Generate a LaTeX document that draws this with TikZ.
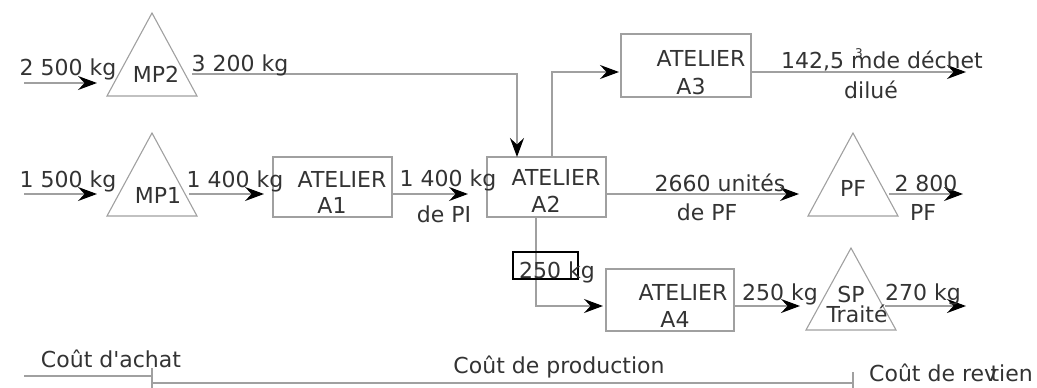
\documentclass[tikz,border=0pt]{standalone}
\usepackage{fontspec}
\setmainfont{DejaVu Sans}[Ligatures=TeXOff]
\usetikzlibrary{arrows.meta}
\definecolor{lg}{RGB}{160,160,160}
\definecolor{tc}{RGB}{51,51,51}
\newcommand{\fsz}{\fontsize{22}{26}\selectfont}
\tikzset{
  ln/.style={draw=lg, line width=1.3pt},
  arr/.style={ln, -{Stealth[length=19pt,width=14pt,inset=6.5pt,color=black]}},
  boxn/.style={draw=lg, line width=1.3pt, inner sep=0pt, minimum width=#1},
  tri/.style={draw=lg, line width=1.1pt},
  txt/.style={text=tc, inner sep=0pt, font=\fsz, anchor=base},
}
\begin{document}
\begin{tikzpicture}[x=1pt,y=-1pt]
\useasboundingbox (0,0) rectangle (1037,388);
% boxes
\node[boxn=119pt, minimum height=60pt] (A1) at (332.5,187) {};
\node[boxn=119pt, minimum height=60pt] (A2) at (546.5,187) {};
\node[boxn=130pt, minimum height=63pt] (A3) at (686,65.5) {};
\node[boxn=128pt, minimum height=62pt] (A4) at (670,300) {};
% triangles
\draw[tri] (152,13) -- (107,96) -- (197,96) -- cycle;
\draw[tri] (152,133) -- (107,216) -- (197,216) -- cycle;
\draw[tri] (853,133) -- (808,216) -- (898,216) -- cycle;
\draw[tri] (851,248) -- (806,330) -- (896,330) -- cycle;
% coordinates
\coordinate (in2) at (24,83);
\coordinate (mp2w) at (97,83);
\coordinate (mp2e) at (192,74);
\coordinate (a2t) at (517,157);
\coordinate (in1) at (24,194);
\coordinate (mp1w) at (97,194);
\coordinate (mp1e) at (189,194);
\coordinate (a1w) at (264,194);
\coordinate (a2w) at (468,194);
\coordinate (a2u) at (552,157);
\coordinate (a3w) at (619,72);
\coordinate (a3o) at (966,72);
\coordinate (pfw) at (799,194);
\coordinate (pfe) at (889,194);
\coordinate (pfo) at (963,194);
\coordinate (a2d) at (536,217);
\coordinate (a4w) at (603,306);
\coordinate (spw) at (800,306);
\coordinate (spe) at (885,306);
\coordinate (spo) at (966,306);
% connectors
\draw[arr] (in2) -- (mp2w);
\draw[arr] (mp2e) -| (a2t);
\draw[arr] (in1) -- (mp1w);
\draw[arr] (mp1e) -- (a1w);
\draw[arr] (A1.east |- a1w) -- (a2w);
\draw[arr] (a2u) |- (a3w);
\draw[arr] (A3.east |- a3w) -- (a3o);
\draw[arr] (A2.east |- a2w) -- (pfw);
\draw[arr] (pfe) -- (pfo);
\draw[arr] (a2d) |- (a4w);
\draw[arr] (A4.east |- a4w) -- (spw);
\draw[arr] (spe) -- (spo);
% bottom scale
\coordinate (c0) at (24,376);
\coordinate (c1) at (152,376);
\coordinate (c1t) at (152,368);
\coordinate (c1b) at (152,388);
\coordinate (c2) at (152,383);
\coordinate (c3) at (853,383);
\coordinate (c3t) at (853,372);
\coordinate (c3b) at (853,388);
\draw[ln] (c0) -- (c1);
\draw[ln] (c1t) -- (c1b);
\draw[ln] (c2) -- (c3);
\draw[ln] (c3t) -- (c3b);
% boxed label
\node[draw=black, line width=2pt, minimum width=65pt, minimum height=27pt, inner sep=0pt] (bx) at (545.5,265.5) {};
% texts
\node[txt] (t1) at (68,75) {2 500 kg};
\node[txt] (t2) at (240,71) {3 200 kg};
\node[txt] (t3) at (68,187) {1 500 kg};
\node[txt] (t4) at (235,187) {1 400 kg};
\node[txt] (lmp2) at (156,82) {MP2};
\node[txt] (lmp1) at (158,203) {MP1};
\node[txt] (a1a) at (342,187) {ATELIER};
\node[txt] (a1b) at (332,213) {A1};
\node[txt] (t5) at (448,186) {1 400 kg};
\node[txt] (t6) at (444,222) {de PI};
\node[txt] (a2a) at (556,185) {ATELIER};
\node[txt] (a2b) at (546,212) {A2};
\node[txt] (a3a) at (701,66) {ATELIER};
\node[txt] (a3b) at (691,94) {A3};
\node[txt] (t7) at (882,68) {142,5 m\llap{\raisebox{0.5em}{\fontsize{12}{12}\selectfont 3}\kern0.45em}de déchet};
\node[txt] (t8) at (871,98) {dilué};
\node[txt] (t9) at (720,191) {2660 unités};
\node[txt] (t10) at (707,220) {de PF};
\node[txt] (lpf) at (853,196) {PF};
\node[txt] (t11) at (926,191) {2 800};
\node[txt] (t12) at (923,220) {PF};
\node[txt] (t13) at (557,278) {250 kg};
\node[txt] (a4a) at (683,300) {ATELIER};
\node[txt] (a4b) at (675,327) {A4};
\node[txt] (t14) at (780,300) {250 kg};
\node[txt] (lsp1) at (851,302) {SP};
\node[txt] (lsp2) at (857,322) {Traité};
\node[txt] (t15) at (923,300) {270 kg};
\node[txt] (b1) at (111,367) {Coût d'achat};
\node[txt] (b2) at (559,373) {Coût de production};
\node[txt] (b3) at (951,381) {Coût de rev\kern-0.3em tien};
\end{tikzpicture}
\end{document}
